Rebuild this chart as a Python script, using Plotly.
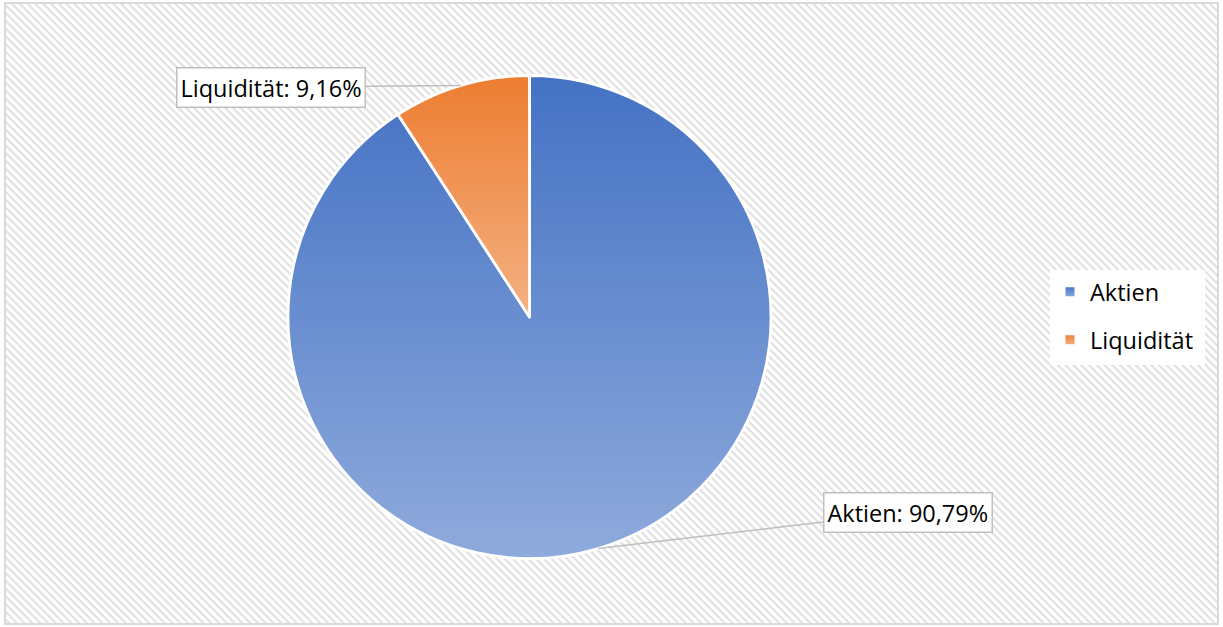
import json, math, base64
import plotly.graph_objects as go

# ---- data ----
categories = ["Aktien", "Liquidität"]
values = [90.79, 9.16]
grad_top = ["#4472C4", "#ED7D31"]
grad_bottom = ["#8FAADC", "#F4B183"]

W, H = 1223, 627
FONT = "Open Sans"

# pie geometry (pixels)
pie_x0, pie_x1 = 288, 771
pie_y0, pie_y1 = 75.5, 558.5
cx, cy = (pie_x0 + pie_x1) / 2, (pie_y0 + pie_y1) / 2
r = (pie_x1 - pie_x0) / 2

labels_txt = [f"{c}: {v:.2f}%".replace(".", ",") for c, v in zip(categories, values)]

fig = go.Figure(go.Pie(
    labels=categories, values=values, sort=False, direction="clockwise",
    rotation=0, textinfo="none", hoverinfo="none",
    marker=dict(colors=grad_top, line=dict(color="white", width=2.8)),
    domain=dict(x=[pie_x0 / W, pie_x1 / W], y=[1 - pie_y1 / H, 1 - pie_y0 / H]),
))

# callout annotations from slice mid-angles
total = sum(values)
box_centers = [(907.5, 512), (271, 87)]
cum = 0
anns = []
for i, v in enumerate(values):
    mid = (cum + v / 2) / total * 2 * math.pi
    cum += v
    tx = cx + r * math.sin(mid)
    ty = cy - r * math.cos(mid)
    bx, by = box_centers[i]
    anns.append(dict(
        x=tx / W, y=1 - ty / H, xref="paper", yref="paper",
        text=labels_txt[i], showarrow=True, arrowhead=0, arrowwidth=1.5,
        arrowcolor="#bfbfbf", ax=bx - tx, ay=by - ty,
        font=dict(family=FONT, size=23.5, color="black"),
        bgcolor="white", bordercolor="#bfbfbf", borderwidth=1.5, borderpad=3,
    ))

hatch_svg = (
    "<svg xmlns='http://www.w3.org/2000/svg' width='1213' height='621'>"
    "<defs><pattern id='h' width='5.5' height='5.5' patternUnits='userSpaceOnUse' "
    "patternTransform='rotate(45)'><rect width='5.5' height='5.5' fill='white'/>"
    "<rect width='5.5' height='2.1' fill='#e0e0e0'/></pattern></defs>"
    "<rect width='100%' height='100%' fill='url(#h)'/></svg>"
)
hatch_uri = "data:image/svg+xml;base64," + base64.b64encode(hatch_svg.encode()).decode()

fig.update_layout(
    width=W, height=H, autosize=False,
    margin=dict(l=0, r=0, t=0, b=0),
    paper_bgcolor="white",
    showlegend=True,
    legend=dict(x=1050 / W, y=1 - 270 / H, xanchor="left", yanchor="top",
                bgcolor="white", font=dict(family=FONT, size=23.5, color="black"),
                itemclick=False, itemdoubleclick=False),
    annotations=anns,
    images=[dict(source=hatch_uri, xref="paper", yref="paper",
                 x=5 / W, y=1 - 3 / H, sizex=(1218 - 5) / W, sizey=(624 - 3) / H,
                 sizing="stretch", layer="below", xanchor="left", yanchor="top")],
    shapes=[dict(type="rect", xref="paper", yref="paper",
                 x0=5 / W, x1=1218 / W, y0=1 - 624 / H, y1=1 - 3 / H,
                 line=dict(color="#d9d9d9", width=2), fillcolor="rgba(0,0,0,0)")],
)

post = """
document.body.style.margin = '0';
document.body.style.overflow = 'hidden';
var gd = document.getElementById('{plot_id}');
var TOP = %s, BOT = %s, ROW = %d;
(function(){
  var ns = 'http://www.w3.org/2000/svg';
  var svg = gd.querySelector('.main-svg');
  var defs = svg.querySelector('defs');
  if (!defs) { defs = document.createElementNS(ns, 'defs'); svg.insertBefore(defs, svg.firstChild); }
  for (var i = 0; i < TOP.length; i++) {
    var g = document.createElementNS(ns, 'linearGradient');
    g.setAttribute('id', 'sliceGrad' + i);
    g.setAttribute('x1', '0'); g.setAttribute('y1', '0');
    g.setAttribute('x2', '0'); g.setAttribute('y2', '1');
    [[0, TOP[i]], [1, BOT[i]]].forEach(function(s){
      var st = document.createElementNS(ns, 'stop');
      st.setAttribute('offset', s[0]); st.setAttribute('stop-color', s[1]);
      g.appendChild(st);
    });
    defs.appendChild(g);
  }
  var slices = gd.querySelectorAll('.slice path.surface');
  slices.forEach(function(p, i){ p.style.fill = 'url(#sliceGrad' + i + ')'; });
  var sb = gd.querySelector('.legend .scrollbox');
  if (sb) sb.removeAttribute('clip-path');
  var items = gd.querySelectorAll('.legend .traces');
  var pos = [];
  items.forEach(function(t){
    var tr = t.getAttribute('transform') || '';
    var m = tr.match(/translate\\(([-\\d.e]+)[ ,]*([-\\d.e]+)?\\)/);
    pos.push(m ? [parseFloat(m[1]), parseFloat(m[2] || 0)] : [0, 0]);
  });
  var orig = pos.length > 1 ? pos[1][1] - pos[0][1] : ROW;
  items.forEach(function(t, i){
    var lp = t.querySelector('.legendpoints path');
    if (lp) { lp.style.fill = 'url(#sliceGrad' + i + ')'; lp.style.strokeWidth = '3px'; }
    t.setAttribute('transform', 'translate(' + pos[i][0] + ',' + (pos[0][1] + i * ROW) + ')');
  });
  var bg = gd.querySelector('.legend .bg');
  if (bg) {
    bg.setAttribute('height', parseFloat(bg.getAttribute('height')) + (ROW - orig) * (items.length - 1) + 3);
    bg.setAttribute('width', parseFloat(bg.getAttribute('width')) + 6);
  }
})();
""" % (json.dumps(grad_top), json.dumps(grad_bottom), 48)

fig.write_html("out.html", post_script=post, config={"displayModeBar": False, "staticPlot": True})
